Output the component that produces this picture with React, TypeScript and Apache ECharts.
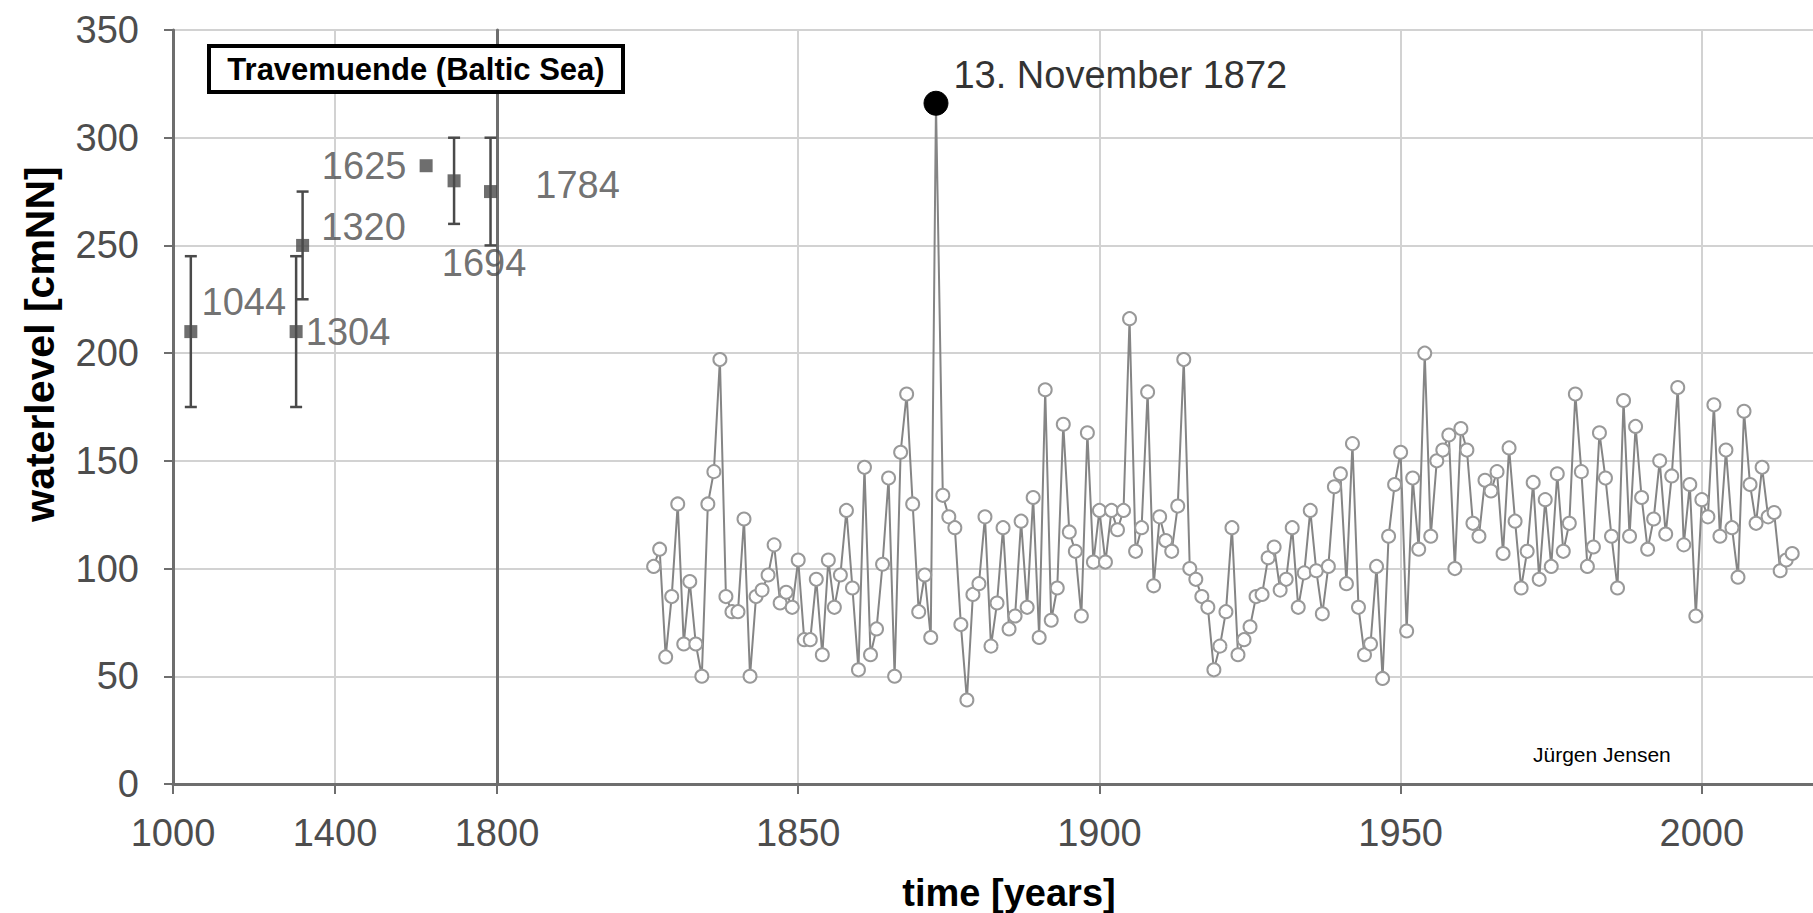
import React, { useEffect, useRef } from "react";
import * as echarts from "echarts";

// ---------- data ----------
// historical storm surges (before gauge records)
const histYears = [1044, 1304, 1320, 1625, 1694, 1784];
const histValues = [210, 210, 250, 287, 280, 275];
const histLow = [175, 175, 225, null, 260, 250];
const histHigh = [245, 245, 275, null, 300, 300];

// annual maximum water levels at the gauge, 1826..2015 [cmNN]
const firstYear = 1826;
const annualMax = [
  101, 109, 59, 87, 130, 65, 94, 65, 50, 130,
  145, 197, 87, 80, 80, 123, 50, 87, 90, 97,
  111, 84, 89, 82, 104, 67, 67, 95, 60, 104,
  82, 97, 127, 91, 53, 147, 60, 72, 102, 142,
  50, 154, 181, 130, 80, 97, 68, 316, 134, 124,
  119, 74, 39, 88, 93, 124, 64, 84, 119, 72,
  78, 122, 82, 133, 68, 183, 76, 91, 167, 117,
  108, 78, 163, 103, 127, 103, 127, 118, 127, 216,
  108, 119, 182, 92, 124, 113, 108, 129, 197, 100,
  95, 87, 82, 53, 64, 80, 119, 60, 67, 73,
  87, 88, 105, 110, 90, 95, 119, 82, 98, 127,
  99, 79, 101, 138, 144, 93, 158, 82, 60, 65,
  101, 49, 115, 139, 154, 71, 142, 109, 200, 115,
  150, 155, 162, 100, 165, 155, 121, 115, 141, 136,
  145, 107, 156, 122, 91, 108, 140, 95, 132, 101,
  144, 108, 121, 181, 145, 101, 110, 163, 142, 115,
  91, 178, 115, 166, 133, 109, 123, 150, 116, 143,
  184, 111, 139, 78, 132, 124, 176, 115, 155, 119,
  96, 173, 139, 121, 147, 124, 126, 99, 104, 107,
];
// the storm surge of 13 November 1872 (hydrological year 1873), plotted at its date
const stormYear = 1873;
const stormDate = 1872.87;
const stormLabel = "13. November 1872";

const yTicks = { min: 0, max: 350, interval: 50 };
const xTicksOld = { min: 1000, max: 1800, interval: 400 };
const xTicksNew = { min: 1800, max: 2018.45, interval: 50 };

// label placement of the historical events (styling, not data)
const histLabelOffset: Record<number, [number, number]> = {
  1044: [53, -30],
  1304: [52, 0],
  1320: [61, -18],
  1625: [-62, 0],
  1694: [30, 82],
  1784: [87, -7],
};

const FONT = "Liberation Sans, Arial, sans-serif";
const AXIS_DARK = "#6e6e6e";
const GRID_LIGHT = "#d2d2d2";
const LABEL_GREY = "#4d4d4d";

export default function App() {
  const ref = useRef<HTMLDivElement>(null);

  useEffect(() => {
    if (!ref.current) return;
    const chart = echarts.init(ref.current, undefined, { renderer: "svg" });

    const histData = histYears.map((y, i) => ({
      value: [y, histValues[i]],
      label: {
        show: true,
        position: "inside",
        offset: histLabelOffset[y],
        formatter: String(y),
        color: LABEL_GREY,
        fontSize: 38,
        fontFamily: FONT,
      },
    }));

    const errData = histYears
      .map((y, i) => [y, histLow[i], histHigh[i]])
      .filter((d) => d[1] != null && d[2] != null);

    const lineData = annualMax.map((v, i) => {
      const yr = firstYear + i;
      if (yr === stormYear) {
        return {
          value: [stormDate, v],
          symbolSize: 24,
          itemStyle: { color: "#000", borderColor: "#000", borderWidth: 1 },
          label: {
            show: true,
            position: "right",
            distance: 5,
            offset: [0, -28],
            formatter: stormLabel,
            color: "#333",
            fontSize: 38,
            fontFamily: FONT,
          },
        };
      }
      return { value: [yr, v] };
    });

    const plain = (v: number) => String(v);

    const commonX = {
      type: "value",
      z: 1,
      axisLine: { show: true, lineStyle: { color: AXIS_DARK, width: 3 } },
      axisTick: { show: true, length: 10, lineStyle: { color: AXIS_DARK, width: 2 } },
      axisLabel: { color: LABEL_GREY, fontSize: 38, fontFamily: FONT, margin: 30, formatter: plain },
    };

    const option: any = {
      animation: false,
      backgroundColor: "#fff",
      grid: [
        { left: 173, width: 324, top: 30, bottom: 129 },
        { left: 497, right: 0, top: 30, bottom: 129 },
      ],
      xAxis: [
        {
          ...commonX,
          gridIndex: 0,
          ...xTicksOld,
          splitLine: { show: true, showMinLine: false, showMaxLine: false, lineStyle: { color: GRID_LIGHT, width: 2 } },
        },
        {
          ...commonX,
          gridIndex: 1,
          ...xTicksNew,
          axisLabel: { ...commonX.axisLabel, showMinLabel: false, showMaxLabel: false },
          splitLine: { show: true, showMinLine: false, showMaxLine: false, lineStyle: { color: GRID_LIGHT, width: 2 } },
        },
      ],
      yAxis: [
        {
          type: "value",
          gridIndex: 0,
          ...yTicks,
          axisLine: { show: true, lineStyle: { color: AXIS_DARK, width: 3 } },
          axisTick: { show: true, length: 9, lineStyle: { color: AXIS_DARK, width: 2 } },
          axisLabel: { color: LABEL_GREY, fontSize: 38, fontFamily: FONT, margin: 34, formatter: plain },
          splitLine: { show: true, showMinLine: false, lineStyle: { color: GRID_LIGHT, width: 2 } },
        },
        {
          type: "value",
          gridIndex: 1,
          ...yTicks,
          axisLine: { show: true, lineStyle: { color: AXIS_DARK, width: 3 } },
          axisTick: { show: false },
          axisLabel: { show: false },
          splitLine: { show: true, showMinLine: false, lineStyle: { color: GRID_LIGHT, width: 2 } },
        },
      ],
      series: [
        {
          type: "custom",
          xAxisIndex: 0,
          yAxisIndex: 0,
          data: errData,
          encode: { x: 0, y: [1, 2] },
          z: 2,
          renderItem: (_params: any, api: any) => {
            const x = api.value(0);
            const p1 = api.coord([x, api.value(1)]);
            const p2 = api.coord([x, api.value(2)]);
            const cap = 6;
            const style = { stroke: "#4a4a4a", lineWidth: 2.5 };
            return {
              type: "group",
              children: [
                { type: "line", shape: { x1: p1[0], y1: p1[1], x2: p2[0], y2: p2[1] }, style },
                { type: "line", shape: { x1: p1[0] - cap, y1: p1[1], x2: p1[0] + cap, y2: p1[1] }, style },
                { type: "line", shape: { x1: p2[0] - cap, y1: p2[1], x2: p2[0] + cap, y2: p2[1] }, style },
              ],
            };
          },
        },
        {
          type: "scatter",
          xAxisIndex: 0,
          yAxisIndex: 0,
          symbol: "rect",
          symbolSize: 13,
          itemStyle: { color: "#4a4a4a" },
          data: histData,
          z: 3,
          emphasis: { disabled: true },
        },
        {
          type: "line",
          xAxisIndex: 1,
          yAxisIndex: 1,
          data: lineData,
          symbol: "circle",
          symbolSize: 13,
          showAllSymbol: true,
          lineStyle: { color: "#858585", width: 2 },
          itemStyle: { color: "#fff", borderColor: "#999", borderWidth: 2 },
          emphasis: { disabled: true },
          z: 3,
        },
      ],
      graphic: [
        {
          type: "rect",
          z: 10,
          shape: { x: 209, y: 46, width: 414, height: 46 },
          style: { fill: "#fff", stroke: "#000", lineWidth: 4 },
        },
        {
          type: "text",
          z: 11,
          x: 416,
          y: 69,
          style: {
            text: "Travemuende (Baltic Sea)",
            font: `bold 31px ${FONT}`,
            fill: "#000",
            align: "center",
            verticalAlign: "middle",
          },
        },
        {
          type: "text",
          z: 11,
          x: 40,
          y: 344,
          rotation: Math.PI / 2,
          style: {
            text: "waterlevel [cmNN]",
            font: `bold 41px ${FONT}`,
            fill: "#000",
            align: "center",
            verticalAlign: "middle",
          },
        },
        {
          type: "text",
          z: 11,
          x: 1009,
          y: 893,
          style: {
            text: "time [years]",
            font: `bold 38px ${FONT}`,
            fill: "#000",
            align: "center",
            verticalAlign: "middle",
          },
        },
        {
          type: "text",
          z: 11,
          x: 1533,
          y: 754,
          style: {
            text: "Jürgen Jensen",
            font: `21px ${FONT}`,
            fill: "#000",
            align: "left",
            verticalAlign: "middle",
          },
        },
      ],
    };

    chart.setOption(option);
    return () => chart.dispose();
  }, []);

  return (
    <div
      ref={ref}
      style={{ position: "fixed", left: 0, top: 0, width: 1813, height: 913, background: "#fff" }}
    />
  );
}
